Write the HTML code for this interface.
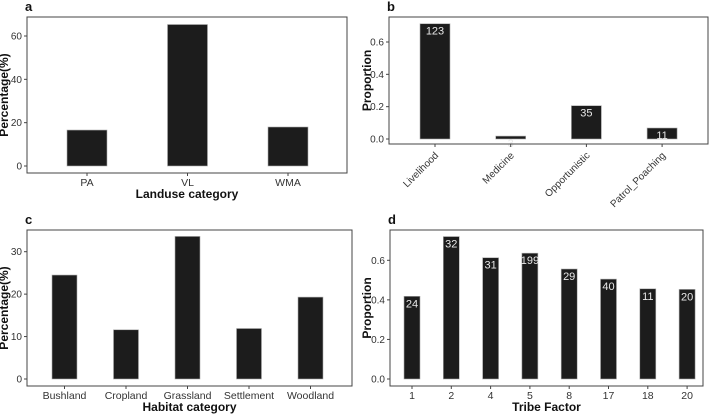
<!DOCTYPE html>
<html><head><meta charset="utf-8">
<style>
html,body{margin:0;padding:0;background:#fff;}
svg{display:block;font-family:"Liberation Sans",Arial,sans-serif;}
</style></head>
<body>
<svg id="chart" width="709" height="414" viewBox="0 0 709 414" xmlns="http://www.w3.org/2000/svg"></svg>
<script>
// Panel a
const catsA = ["PA","VL","WMA"];
const valsA = [16.6,65.3,18.0];
const ticksA = [0,20,40,60];
// Panel b
const catsB = ["Livelihood","Medicine","Opportunistic","Patrol_Poaching"];
const valsB = [0.713,0.018,0.206,0.068];
const countsB = ["123","3","35","11"];
const ticksB = [0,0.2,0.4,0.6];
const tickLabB = ["0.0","0.2","0.4","0.6"];
// Panel c
const catsC = ["Bushland","Cropland","Grassland","Settlement","Woodland"];
const valsC = [24.5,11.6,33.6,11.9,19.3];
const ticksC = [0,10,20,30];
// Panel d
const catsD = ["1","2","4","5","8","17","18","20"];
const valsD = [0.418,0.72,0.613,0.636,0.556,0.505,0.456,0.453];
const countsD = ["24","32","31","199","29","40","11","20"];
const ticksD = [0,0.2,0.4,0.6];
const tickLabD = ["0.0","0.2","0.4","0.6"];

const NS="http://www.w3.org/2000/svg";
const svg=document.getElementById('chart');
function mk(tag,attrs,parent){const e=document.createElementNS(NS,tag);for(const k in attrs)e.setAttribute(k,attrs[k]);(parent||svg).appendChild(e);return e;}

function panel(o){
  const g=mk('g',{});
  
  
  const yScale=v=>o.y0-v*o.pxPerUnit;
  const xc=i=>o.c0+o.step*i;
  const lt=mk('text',{x:o.left-2,y:o.top-6,'font-size':13,'font-weight':'bold',fill:'#111'},g);
  lt.textContent=o.id;
  
  
  o.vals.forEach((v,i)=>{
    const r=mk('rect',{x:xc(i)-o.bw/2,y:yScale(v),width:o.bw,height:o.y0-yScale(v),fill:'#1c1c1c',stroke:'#aaa','stroke-width':0.6},g);
    
    
    if(o.counts){
      const t=mk('text',{x:xc(i),y:yScale(v)+11,'font-size':11,fill:'#e8e8e8','text-anchor':'middle'},g);
      t.textContent=o.counts[i];
      
      
    }
  });
  const fr=mk('rect',{x:o.left,y:o.top,width:o.right-o.left,height:o.bottom-o.top,fill:'none',stroke:'#444','stroke-width':1},g);
  
  
  o.ticks.forEach((v,i)=>{
    const y=yScale(v);
    mk('line',{x1:o.left-3,x2:o.left,y1:y,y2:y,stroke:'#444'},g);
    const t=mk('text',{x:o.left-5,y:y+3.5,'font-size':10,fill:'#333','text-anchor':'end'},g);
    t.textContent=o.tickLabels?o.tickLabels[i]:String(v);
    
    
  });
  o.cats.forEach((c,i)=>{
    const x=xc(i);
    mk('line',{x1:x,x2:x,y1:o.bottom,y2:o.bottom+3,stroke:'#444'},g);
    let t;
    if(o.rotate){
      t=mk('text',{x:x+4,y:o.bottom+12,'font-size':10,fill:'#333','text-anchor':'end',transform:`rotate(-45 ${x+4} ${o.bottom+12})`},g);
    } else {
      t=mk('text',{x:x,y:o.bottom+13,'font-size':10.5,fill:'#333','text-anchor':'middle'},g);
    }
    t.textContent=c;
    
    
  });
  if(o.xTitle){
    const t=mk('text',{x:(o.left+o.right)/2,y:o.bottom+25,'font-size':12,'font-weight':'bold',fill:'#111','text-anchor':'middle'},g);
    t.textContent=o.xTitle;
    
    
  }
  const yt=(o.top+o.bottom)/2;
  const t=mk('text',{x:o.yTitleX,y:yt,'font-size':12,'font-weight':'bold',fill:'#111','text-anchor':'middle',transform:`rotate(-90 ${o.yTitleX} ${yt})`},g);
  t.textContent=o.yTitle;
  
  
}

panel({id:'a',cats:catsA,vals:valsA,ticks:ticksA,left:27,right:347,top:17,bottom:173,y0:166,pxPerUnit:130/60,c0:87,step:100.5,bw:40,xTitle:'Landuse category',yTitle:'Percentage(%)',yTitleX:8});
panel({id:'b',cats:catsB,vals:valsB,counts:countsB,ticks:ticksB,tickLabels:tickLabB,left:389,right:708,top:17,bottom:144,y0:139,pxPerUnit:97/0.6,c0:435,step:75.7,bw:30,rotate:true,yTitle:'Proportion',yTitleX:371});
panel({id:'c',cats:catsC,vals:valsC,ticks:ticksC,left:27,right:352,top:230,bottom:386,y0:379,pxPerUnit:127.3/30,c0:64.5,step:61.5,bw:25,xTitle:'Habitat category',yTitle:'Percentage(%)',yTitleX:8});
panel({id:'d',cats:catsD,vals:valsD,counts:countsD,ticks:ticksD,tickLabels:tickLabD,left:390,right:703,top:230,bottom:386,y0:379,pxPerUnit:118.7/0.6,c0:412,step:39.3,bw:16,xTitle:'Tribe Factor',yTitle:'Proportion',yTitleX:371});
</script>
</body></html>
